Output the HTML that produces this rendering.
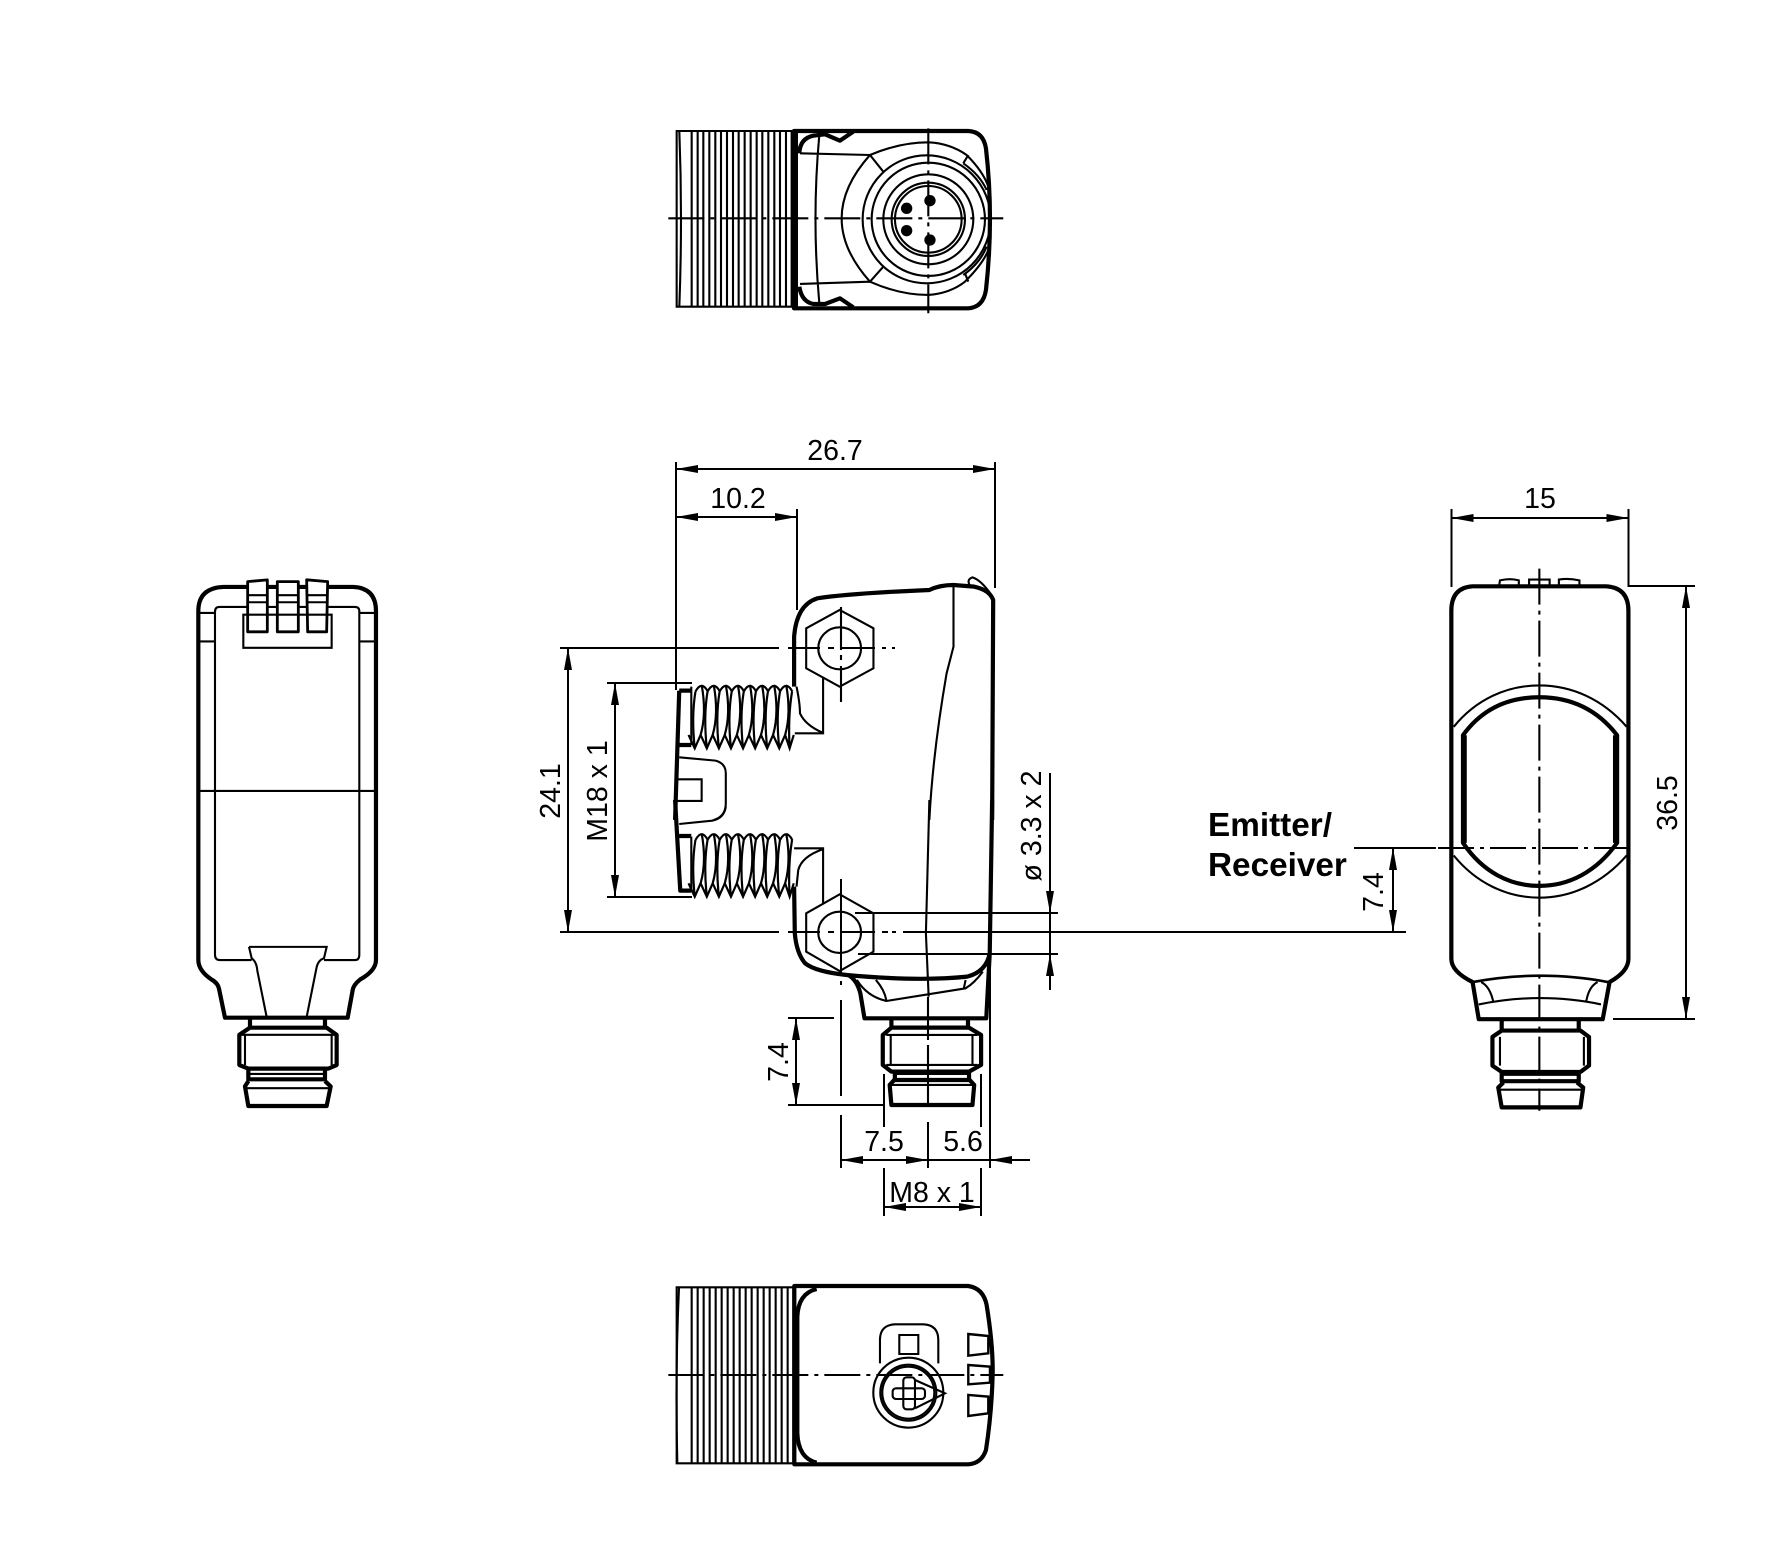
<!DOCTYPE html>
<html><head><meta charset="utf-8"><style>
html,body{margin:0;padding:0;background:#fff}
svg{display:block}
path,line,rect,ellipse,circle,polygon,use{vector-effect:non-scaling-stroke}
.a{fill:none;stroke:#000;stroke-width:2.1}
.b{fill:none;stroke:#000;stroke-width:4.2;stroke-linejoin:round}
.c{fill:none;stroke:#000;stroke-width:2.1;stroke-dasharray:36 6 4 6}
.d{fill:none;stroke:#000;stroke-width:2}
text{font-family:"Liberation Sans",Arial,sans-serif;font-size:28.5px;fill:#000}
.h{font-weight:bold;font-size:33.3px}
</style></head><body>
<svg xmlns="http://www.w3.org/2000/svg" width="1772" height="1559" viewBox="0 0 1772 1559">
<rect width="1772" height="1559" fill="#fff"/>
<defs><path id="t" class="a" style="stroke-width:2.2" d="M452,815Q470,780 488,815M452,815Q440,890 450,985M470,795Q485,880 467,945M432,945L450,985L467,945"/>
<g id="th"><use href="#t"/><use href="#t" x="35"/><use href="#t" x="70"/><use href="#t" x="105"/><use href="#t" x="140"/><use href="#t" x="175"/><use href="#t" x="210"/><use href="#t" x="245"/><path class="a" style="stroke-width:2.2" d="M732,815Q720,890 725,985M712,945L725,985L737,945"/></g></defs>

<!-- top view -->
<g transform="translate(640,100) scale(.3333)">
<rect class="a" x="110" y="93" width="350" height="527"/>
<path class="a" d="M118,93Q128,355 118,620M155,93V620M173,93V620M190,93V620M208,93V620M226,93V620M243,93V620M261,93V620M279,93V620M296,93V620M314,93V620M332,93V620M350,93V620M367,93V620M385,93V620M403,93V620M420,93V620M438,93V620M455,93V620"/>
<path class="b" d="M462,93H985Q1030,95 1038,145Q1062,355 1038,570Q1030,622 985,625H462Z"/>
<path class="b" style="stroke-width:6" d="M465,93V625"/>
<path class="b" d="M478,160Q480,115 520,107L555,103L600,122L640,95M478,560Q485,605 520,612L555,612L600,595L640,622"/>
<path class="a" d="M538,105Q515,355 538,610M480,160L690,165M480,552L690,545M690,165Q605,260 605,355Q605,450 690,545M690,165Q780,127 865,127Q930,130 980,165Q1030,215 1045,260M690,545Q780,585 865,585Q930,580 975,545Q1030,490 1045,450M690,165L730,215M690,545L730,500M985,165L970,190M975,520L985,545M970,190Q1020,225 1040,270M970,525Q1020,490 1040,440"/>
<ellipse class="a" cx="860" cy="358" rx="192" ry="192"/><circle class="a" cx="865" cy="358" r="170"/><circle class="a" cx="865" cy="358" r="135"/><circle class="a" cx="865" cy="358" r="110"/><circle class="a" cx="865" cy="358" r="100"/>
<circle cx="800" cy="325" r="17"/><circle cx="870" cy="302" r="17"/><circle cx="800" cy="392" r="17"/><circle cx="870" cy="420" r="17"/>
<line class="c" x1="85" y1="355" x2="1090" y2="355"/><line class="c" x1="865" y1="85" x2="865" y2="640"/>
</g>

<!-- side view upper -->
<g transform="translate(539.5,420) scale(.345,.3333)">
<path class="b" d="M738,800V650Q745,555 805,535Q900,520 1130,510Q1160,495 1200,495L1260,500Q1305,510 1315,540L1312,1200"/>
<path class="a" d="M1250,500Q1235,480 1255,472Q1280,480 1310,525"/>
<path class="a" d="M1200,500V680Q1190,720 1180,760Q1140,1000 1130,1200"/>
<path class="a" d="M773,625L870,570L968,625V745L870,800L773,745Z"/>
<ellipse class="a" cx="870" cy="685" rx="62" ry="63"/>
<use href="#th"/>
<path class="a" d="M440,800V975M740,940H822V775M745,800Q755,850 755,880Q770,915 820,938"/>
<path class="b" d="M405,812H440M405,975H440M405,812L393,1200"/>
<path class="a" d="M405,1012L510,1022Q540,1030 540,1060V1150Q540,1190 505,1200M400,1078H470V1143H400"/>
</g>

<!-- side view lower -->
<g transform="translate(539.5,800) scale(.345,.3333)">
<path class="b" d="M1312,0L1305,460Q1295,515 1240,530Q1100,545 890,525Q800,515 770,490Q745,460 740,400L738,260"/>
<path class="b" d="M895,525Q920,540 930,580L942,655H1295L1305,460"/>
<path class="a" d="M1130,0L1120,400L1128,590M920,540Q950,590 1005,603L1235,565Q1260,550 1285,515M975,540Q1000,570 1005,600M1235,540L1230,565"/>
<path class="a" d="M773,340L870,283L968,340V455L870,513L773,455Z"/>
<ellipse class="a" cx="870" cy="397" rx="62" ry="62"/>
<use href="#th" transform="translate(0,-695)"/>
<path class="a" d="M440,110V270M738,145H822V310M820,148Q760,170 750,210L745,260"/>
<path class="b" d="M393,0L408,272H440M405,108H440"/>
<path class="a" d="M540,20Q535,55 500,62L405,72"/>
<path class="b" d="M1020,655V683M1242,655V683M1020,683H1245L1280,705V795L1245,815H1020L995,795V705L1020,683M1030,815V840H1245V815M1030,838L1015,855L1020,915H1255L1260,855L1245,838"/>
<path class="a" d="M1018,705V795M1255,705V795M1005,705H1270M1005,795H1270M1030,822H1245M1015,855H1260"/>
</g>

<!-- right view -->
<g transform="translate(1202,480) scale(.3425,.4219)">
<path class="b" d="M790,252H1180Q1245,255 1245,310V1135Q1245,1165 1190,1190L1170,1278H808L790,1190Q728,1165 728,1135V310Q728,255 790,252Z"/>
<path class="a" d="M868,248L870,238Q900,232 925,238L925,248M955,248V236H1015V248M1042,248V236Q1070,232 1102,238V248"/>
<path class="a" d="M735,585C800,520 890,487 985,487C1080,487 1170,520 1240,585M735,890C800,955 890,990 985,990C1080,990 1170,955 1240,890"/>
<path class="b" d="M762,605C820,540 900,515 985,515C1070,515 1150,540 1212,605V860C1150,930 1070,962 985,962C900,962 820,930 762,860Z"/>
<path class="a" d="M770,605V860M1203,605V860M808,1243Q900,1228 985,1228Q1080,1228 1165,1243M815,1190Q840,1200 850,1235M1155,1190Q1130,1200 1122,1235"/>
<path class="b" style="stroke-width:2.6" d="M790,1190Q890,1175 985,1175Q1090,1175 1185,1190"/>
<path class="b" d="M875,1278V1305M1100,1278V1305M875,1305H1105L1130,1320V1388L1105,1403H875L848,1388V1320L875,1305M875,1403V1425H1100V1403M880,1428L865,1440L875,1487H1105L1113,1440L1095,1428"/>
<path class="a" d="M870,1320V1388M1115,1320V1388M875,1410H1100M865,1445H1113"/>
<line class="c" x1="985" y1="210" x2="985" y2="1495"/>
</g>

<!-- left view -->
<g transform="translate(180,572) scale(.3333,.356)">
<path class="b" d="M130,42H520Q588,45 588,110V1090Q588,1120 540,1145Q520,1160 518,1175L503,1252H135L118,1175Q115,1155 95,1145Q55,1120 55,1090V110Q55,45 130,42Z"/>
<path class="a" d="M215,1090H120Q105,1090 105,1075V112Q105,98 118,98H525Q538,98 538,110V1075Q538,1090 525,1090H432M55,615H588M55,115H105M55,195H105M538,115H588M538,195H588"/>
<path class="a" d="M207,1053H440L432,1085Q415,1090 410,1110L380,1250M207,1053L215,1085Q230,1095 232,1120L260,1250"/>
<rect class="a" x="190" y="120" width="265" height="93"/>
<path class="b" style="stroke-width:2.8;fill:#fff" d="M203,27L262,22V168H203Z"/>
<path class="b" style="stroke-width:2.8;fill:#fff" d="M292,27H355V168H292Z"/>
<path class="b" style="stroke-width:2.8;fill:#fff" d="M380,22L443,27L440,168H383Z"/>
<path class="a" d="M203,65H262M203,85H262M203,120H262M292,65H355M292,85H355M292,120H355M383,65H441M383,85H441M383,120H441"/>
<path class="b" d="M210,1255V1280M435,1255V1280M210,1280H440L470,1300V1385L445,1395H205L178,1385V1300L210,1280M205,1395V1425H435V1395M205,1430L195,1445L205,1500H440L452,1445L435,1430"/>
<path class="a" d="M195,1300V1385M455,1300V1385M180,1300H468M205,1410H435M198,1450H450"/>
</g>

<!-- bottom view -->
<g transform="translate(660,1280) scale(.3333)">
<rect class="a" x="50" y="22" width="350" height="528"/>
<path class="a" d="M57,22Q45,285 52,550M95,22V550M113,22V550M131,22V550M149,22V550M167,22V550M185,22V550M203,22V550M221,22V550M239,22V550M257,22V550M275,22V550M293,22V550M311,22V550M329,22V550M347,22V550M365,22V550M383,22V550"/>
<path class="b" d="M403,18H925Q970,25 980,75Q1000,200 998,285Q995,400 978,510Q965,550 925,553H403Z"/>
<path class="b" d="M470,27Q415,40 412,110V460Q415,535 470,548"/>
<path class="a" d="M660,250V180Q660,135 705,133H790Q835,135 835,180V250"/>
<rect class="a" x="718" y="165" width="57" height="57"/>
<circle class="a" cx="745" cy="338" r="105"/><circle class="a" cx="745" cy="338" r="84"/><circle class="a" cx="745" cy="338" r="78"/>
<path class="a" d="M765,300L855,340L765,385"/>
<rect class="a" x="698" y="325" width="97" height="32" rx="10"/>
<rect class="a" x="730" y="292" width="35" height="96" rx="10"/>
<path class="a" style="stroke-width:2.4" d="M925,162L985,168V220L925,227ZM925,255L990,260V308L925,313ZM925,345L985,350V400L925,408Z"/>
<line class="c" x1="25" y1="285" x2="1030" y2="285"/>
</g>

<!-- dimensions -->
<g class="d">
<path d="M676,462V690M995,462V588M676,469H995M676,517H797M797,509V610"/>
<path d="M560,648H779M560,932H779M568,648V932M607,683H692M607,897H692M615,683V897"/>
<path d="M855,913H1058M858,954H1058M1050,773V990M903,932H1406"/>
<path d="M1354,848H1436M1393,848V932M1451.5,509V587M1628.5,509V587M1451.5,518H1628.5M1628.5,586H1695M1613,1019H1695M1686,586V1019"/>
<path d="M788,1018H834M788,1105H884M796,1018V1105"/>
<path d="M841,1000V1096M841,1115V1168M928,1122V1168M990,955V1168M884,1074V1127M981,1074V1127M884,1168V1216M981,1168V1216M841,1160H1030M884,1207H981"/>
<path d="M841,879V975M841,981V985"/>
</g>
<!-- dash-dot details -->
<path class="a" d="M788,648H820M828,648H834M840,648H875M882,648H886M892,648H895"/>
<path class="a" d="M788,932H820M828,932H834M840,932H875M882,932H888M892,932H896"/>
<path class="a" d="M841,607V650M841,655V660M841,666V702"/>
<path class="c" d="M1438,848H1634"/>
<path class="a" d="M928,997V1040M928,1045V1105"/>
<!-- arrowheads -->
<g fill="#000" stroke="none">
<polygon points="676,469 698,465 698,473"/><polygon points="995,469 973,465 973,473"/>
<polygon points="676,517 698,513 698,521"/><polygon points="797,517 775,513 775,521"/>
<polygon points="568,648 564,670 572,670"/><polygon points="568,932 564,910 572,910"/>
<polygon points="615,683 611,705 619,705"/><polygon points="615,897 611,875 619,875"/>
<polygon points="1050,913 1046,891 1054,891"/><polygon points="1050,954 1046,976 1054,976"/>
<polygon points="1393,848 1389,870 1397,870"/><polygon points="1393,932 1389,910 1397,910"/>
<polygon points="1451.5,518 1473.5,514 1473.5,522"/><polygon points="1628.5,518 1606.5,514 1606.5,522"/>
<polygon points="1686,586 1682,608 1690,608"/><polygon points="1686,1019 1682,997 1690,997"/>
<polygon points="796,1018 792,1040 800,1040"/><polygon points="796,1105 792,1083 800,1083"/>
<polygon points="841,1160 863,1156 863,1164"/><polygon points="928,1160 906,1156 906,1164"/>
<polygon points="990,1160 1012,1156 1012,1164"/>
<polygon points="884,1207 906,1203 906,1211"/><polygon points="981,1207 959,1203 959,1211"/>
</g>
<!-- labels -->
<text x="835" y="460" text-anchor="middle">26.7</text>
<text x="738" y="508" text-anchor="middle">10.2</text>
<text x="1540" y="508" text-anchor="middle">15</text>
<text x="884" y="1151" text-anchor="middle">7.5</text>
<text x="963" y="1151" text-anchor="middle">5.6</text>
<text x="932" y="1202" text-anchor="middle">M8 x 1</text>
<text transform="translate(560,791) rotate(-90)" text-anchor="middle">24.1</text>
<text transform="translate(607,791) rotate(-90)" text-anchor="middle">M18 x 1</text>
<text transform="translate(1041,826) rotate(-90)" text-anchor="middle">ø 3.3 x 2</text>
<text transform="translate(788,1062) rotate(-90)" text-anchor="middle">7.4</text>
<text transform="translate(1383,892) rotate(-90)" text-anchor="middle">7.4</text>
<text transform="translate(1677,803) rotate(-90)" text-anchor="middle">36.5</text>
<text class="h" x="1208" y="836">Emitter/</text>
<text class="h" x="1208" y="876">Receiver</text>
</svg>
</body></html>
